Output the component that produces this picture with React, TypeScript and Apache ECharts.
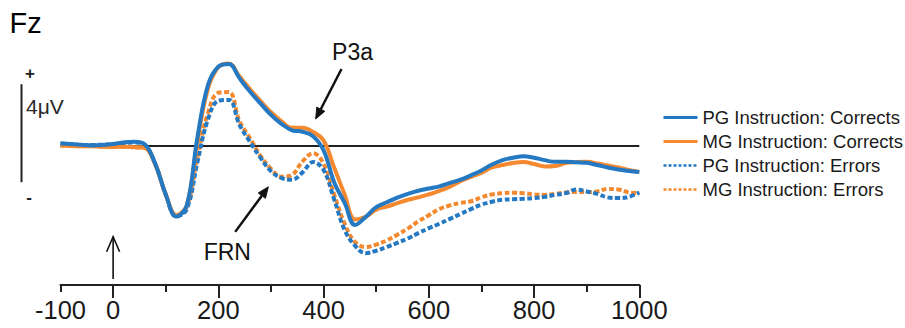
import React, { useEffect, useRef } from "react";
import * as echarts from "echarts";

// time (ms) of each sample
const times = [
  -100, -80, -60, -40, -20, 0, 20, 40, 60, 80, 100, 120, 140, 160, 180, 200, 220, 240, 260, 280,
  300, 320, 340, 360, 380, 400, 420, 440, 460, 480, 500, 520, 540, 560, 580, 600, 620, 640, 660, 680,
  700, 720, 740, 760, 780, 800, 820, 840, 860, 880, 900, 920, 940, 960, 980, 1000,
];

// amplitudes (µV)
const pgCorrects = [
  0.08, 0.06, 0.03, 0.0, 0.02, 0.06, 0.12, 0.15, 0.05, -0.75, -2.0, -2.9, -2.45, 0.3, 2.45, 3.22, 3.33, 2.75, 2.2, 1.72,
  1.25, 0.88, 0.62, 0.56, 0.38, -0.2, -1.5, -2.35, -3.25, -2.92, -2.52, -2.32, -2.13, -1.98, -1.85, -1.76, -1.67, -1.53, -1.4, -1.22,
  -1.02, -0.78, -0.6, -0.5, -0.44, -0.5, -0.6, -0.67, -0.67, -0.69, -0.71, -0.8, -0.9, -0.98, -1.04, -1.08,
];
const mgCorrects = [
  0.0, -0.02, -0.03, -0.03, -0.05, -0.06, -0.05, -0.07, -0.1, -0.78, -2.0, -2.85, -2.45, 0.15, 2.3, 3.2, 3.35, 2.82, 2.3, 1.82,
  1.36, 0.98, 0.72, 0.72, 0.55, 0.2, -0.9, -2.0, -3.02, -2.92, -2.62, -2.5, -2.36, -2.22, -2.12, -2.0, -1.86, -1.68, -1.46, -1.28,
  -1.12, -0.9, -0.8, -0.72, -0.68, -0.76, -0.86, -0.84, -0.72, -0.68, -0.67, -0.74, -0.82, -0.9, -1.0, -1.08,
];
const pgErrors = [
  0.08, 0.05, 0.02, 0.02, 0.03, 0.05, 0.1, 0.12, 0.02, -0.75, -2.0, -2.9, -2.6, -0.7, 1.05, 1.82, 1.86, 0.85, 0.15, -0.5,
  -1.05, -1.33, -1.4, -1.1, -0.68, -1.0, -2.2, -3.45, -4.1, -4.4, -4.3, -4.15, -3.98, -3.8, -3.58, -3.38, -3.2, -3.0, -2.8, -2.6,
  -2.42, -2.3, -2.22, -2.2, -2.18, -2.15, -2.1, -2.02, -1.95, -1.8, -1.88, -1.98, -2.12, -2.15, -2.1, -1.92,
];
const mgErrors = [
  0.0, -0.02, -0.03, -0.02, -0.05, -0.05, -0.05, -0.08, -0.1, -0.75, -2.0, -2.85, -2.5, -0.5, 1.3, 2.15, 2.18, 1.0, 0.3, -0.42,
  -0.95, -1.28, -1.2, -0.65, -0.32, -0.75, -2.0, -3.2, -3.95, -4.15, -4.05, -3.88, -3.65, -3.4, -3.1, -2.85, -2.6, -2.45, -2.35, -2.28,
  -2.12, -2.0, -1.95, -1.93, -1.95, -2.0, -2.02, -1.98, -1.92, -1.9, -1.9, -1.88, -1.78, -1.8, -1.92, -1.95,
];

const seriesNames = [
  "PG Instruction: Corrects",
  "MG Instruction: Corrects",
  "PG Instruction: Errors",
  "MG Instruction: Errors",
];

const xLabelValues = [-100, 0, 200, 400, 600, 800, 1000];
const xMinorTicks = [-100, 100, 300, 500, 700, 900];
const xMajorTicks = [0, 200, 400, 600, 800, 1000];

// annotation anchors in data units [ms, µV]
const frnArrow = { from: [232, -3.53], to: [295, -1.69] };
const p3aArrow = { from: [434, 3.12], to: [385, 1.08] };
const frnLabel = [217, -4.35];
const p3aLabel = [455, 3.82];
const stimulusArrow = { from: [0, -5.45], to: [0, -3.73] };
const scaleBar = [-1.5, 2.5]; // 4 µV

const BLUE = "#2479c2";
const ORANGE = "#f4892f";
const INK = "#1a1a1a";
const FONT = "'Liberation Sans', Arial, Helvetica, sans-serif";

function pairs(vals: number[]) {
  return times.map((t, i) => [t, vals[i]]);
}

function arrowHead(p0: number[], p1: number[], len: number, half: number) {
  const dx = p1[0] - p0[0];
  const dy = p1[1] - p0[1];
  const L = Math.hypot(dx, dy);
  const ux = dx / L;
  const uy = dy / L;
  const bx = p1[0] - ux * len;
  const by = p1[1] - uy * len;
  const nx = -uy * half;
  const ny = ux * half;
  return {
    base: [bx, by],
    pts: [
      [p1[0], p1[1]],
      [bx + nx, by + ny],
      [bx - nx, by - ny],
    ],
  };
}

export default function App() {
  const ref = useRef<HTMLDivElement>(null);

  useEffect(() => {
    if (!ref.current) return;
    const chart = echarts.init(ref.current, null, { renderer: "svg" });

    const mk = (
      name: string,
      vals: number[],
      color: string,
      dashed: boolean,
      z: number
    ) => ({
      name,
      type: "line",
      data: pairs(vals),
      smooth: 0.4,
      symbol: "none",
      showSymbol: false,
      z,
      lineStyle: {
        color,
        width: 4,
        type: dashed ? [5, 2.5] : "solid",
        cap: "butt",
      },
      itemStyle: { color },
    });

    const series: any[] = [
      mk(seriesNames[1], mgCorrects, ORANGE, false, 4),
      mk(seriesNames[0], pgCorrects, BLUE, false, 5),
      mk(seriesNames[3], mgErrors, ORANGE, true, 2),
      mk(seriesNames[2], pgErrors, BLUE, true, 3),
    ];
    // zero line
    series[1].markLine = {
      silent: true,
      symbol: ["none", "none"],
      label: { show: false },
      lineStyle: { color: "#222", width: 2, type: "solid" },
      data: [{ yAxis: 0 }],
      z: 1,
    };

    const hidden = { opacity: 0, color: "transparent", borderWidth: 0 };

    const option: any = {
      animation: false,
      backgroundColor: "#ffffff",
      grid: { left: 60.5, right: 265.7, top: 47.5, bottom: 43, containLabel: false },
      xAxis: [
        {
          type: "value",
          min: -100,
          max: 1000,
          axisLine: { show: true, onZero: false, lineStyle: { color: "#222", width: 2 } },
          axisTick: {
            show: true,
            customValues: xMinorTicks,
            length: 7,
            inside: false,
            lineStyle: { color: "#222", width: 2 },
          },
          axisLabel: {
            show: true,
            customValues: xLabelValues,
            formatter: (v: number) => String(v),
            margin: 12,
            fontSize: 25.5,
            color: INK,
            fontFamily: FONT,
          },
          splitLine: { show: false },
        },
        {
          type: "value",
          min: -100,
          max: 1000,
          position: "bottom",
          axisLine: { show: false, onZero: false },
          axisTick: {
            show: true,
            customValues: xMajorTicks,
            length: 13,
            inside: false,
            lineStyle: { color: "#222", width: 2 },
          },
          axisLabel: { show: false },
          splitLine: { show: false },
        },
      ],
      yAxis: {
        type: "value",
        min: -5.7,
        max: 4,
        show: false,
        splitLine: { show: false },
      },
      legend: {
        orient: "vertical",
        left: 662,
        top: 108,
        padding: 0,
        itemWidth: 34,
        itemHeight: 14,
        itemGap: 5,
        textStyle: { fontSize: 18.5, lineHeight: 18, color: INK, fontFamily: FONT },
        data: [
          { name: seriesNames[0], itemStyle: hidden, lineStyle: { width: 3, type: "solid" } },
          { name: seriesNames[1], itemStyle: hidden, lineStyle: { width: 3, type: "solid" } },
          { name: seriesNames[2], itemStyle: hidden, lineStyle: { width: 2.5, type: [3, 2] } },
          { name: seriesNames[3], itemStyle: hidden, lineStyle: { width: 2.5, type: [3, 2] } },
        ],
      },
      series,
    };

    chart.setOption(option);

    const px = (p: number[]) =>
      chart.convertToPixel({ seriesIndex: 0 }, p) as unknown as number[];

    const arrowEls = (a: { from: number[]; to: number[] }) => {
      const p0 = px(a.from);
      const p1 = px(a.to);
      const h = arrowHead(p0, p1, 11, 4.5);
      return [
        {
          type: "line",
          shape: { x1: p0[0], y1: p0[1], x2: h.base[0], y2: h.base[1] },
          style: { stroke: "#111", lineWidth: 2.5 },
          z: 100,
        },
        {
          type: "polygon",
          shape: { points: h.pts },
          style: { fill: "#111", stroke: "#111", lineWidth: 1 },
          z: 100,
        },
      ];
    };

    const s0 = px(stimulusArrow.from);
    const s1 = px(stimulusArrow.to);
    const sb0 = px([0, scaleBar[0]]);
    const sb1 = px([0, scaleBar[1]]);
    const fl = px(frnLabel);
    const pl = px(p3aLabel);
    const barX = 21.5;

    chart.setOption({
      graphic: [
        {
          type: "text",
          x: 9.5,
          y: 23,
          style: { text: "Fz", font: `29px ${FONT}`, fill: "#000", verticalAlign: "middle" },
        },
        {
          type: "line",
          shape: { x1: barX, y1: sb0[1], x2: barX, y2: sb1[1] },
          style: { stroke: "#222", lineWidth: 2 },
        },
        {
          type: "text",
          x: 30,
          y: 73,
          style: { text: "+", font: `bold 17px ${FONT}`, fill: "#222", align: "center", verticalAlign: "middle" },
        },
        {
          type: "text",
          x: 29,
          y: 197,
          style: { text: "-", font: `bold 17px ${FONT}`, fill: "#222", align: "center", verticalAlign: "middle" },
        },
        {
          type: "text",
          x: 26,
          y: 106.5,
          style: { text: "4μV", font: `21px ${FONT}`, fill: "#2a2a2a", align: "left", verticalAlign: "middle" },
        },
        {
          type: "line",
          shape: { x1: s0[0], y1: s0[1], x2: s1[0], y2: s1[1] },
          style: { stroke: "#111", lineWidth: 1.6 },
          z: 100,
        },
        {
          type: "polyline",
          shape: {
            points: [
              [s1[0] - 6.5, s1[1] + 15],
              [s1[0], s1[1]],
              [s1[0] + 6.5, s1[1] + 15],
            ],
          },
          style: { stroke: "#111", lineWidth: 1.6, fill: "none" },
          z: 100,
        },
        ...arrowEls(frnArrow),
        ...arrowEls(p3aArrow),
        {
          type: "text",
          x: fl[0],
          y: fl[1],
          style: { text: "FRN", font: `23px ${FONT}`, fill: "#111", align: "center", verticalAlign: "middle" },
          z: 100,
        },
        {
          type: "text",
          x: pl[0],
          y: pl[1],
          style: { text: "P3a", font: `23px ${FONT}`, fill: "#111", align: "center", verticalAlign: "middle" },
          z: 100,
        },
      ],
    });

    return () => {
      chart.dispose();
    };
  }, []);

  return (
    <div
      ref={ref}
      style={{ position: "fixed", left: 0, top: 0, width: 905, height: 328, background: "#fff" }}
    />
  );
}
